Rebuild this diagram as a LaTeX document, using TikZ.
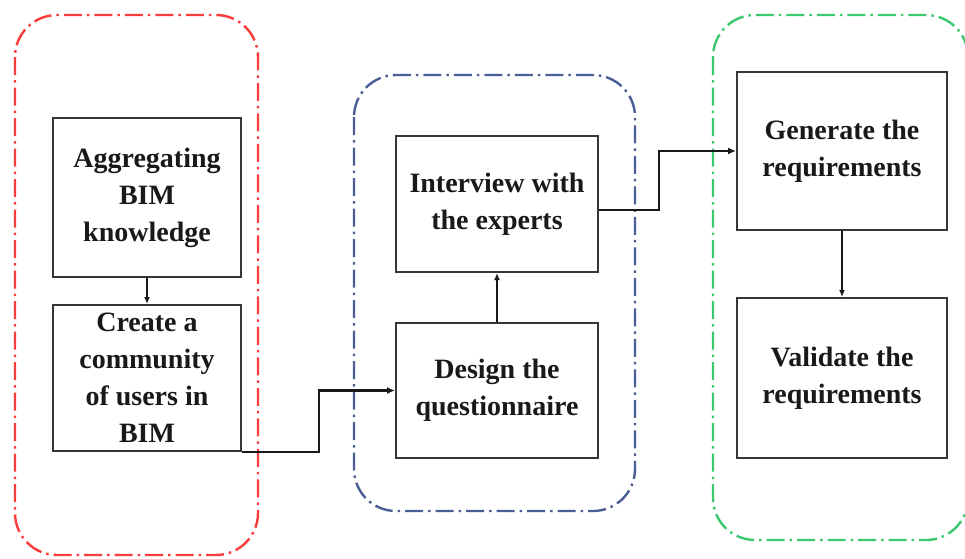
\documentclass[tikz,border=0pt]{standalone}
\usepackage{fontspec}
\setmainfont{Liberation Serif}
\usetikzlibrary{arrows.meta,calc}
\definecolor{grpred}{RGB}{250,60,60}
\definecolor{grpblue}{RGB}{75,95,150}
\definecolor{grpgreen}{RGB}{60,200,110}
\definecolor{boxline}{RGB}{55,55,55}
\tikzset{
  stepbox/.style={draw=boxline, line width=2pt, rectangle, align=center,
    font=\fontsize{28}{37}\selectfont\bfseries, text=black!90, inner sep=0pt},
  group/.style={line width=2.4pt, rounded corners=42pt,
    dash pattern=on 18pt off 5pt on 2.5pt off 5pt},
  link/.style={draw=black!90, line width=1.4pt, -{Latex[length=7pt,width=6pt]}},
  elbow/.style={draw=black!90, line width=2.4pt, -{Latex[length=8pt,width=7pt]}}
}
\begin{document}
\begin{tikzpicture}[x=1pt,y=-1pt]
\clip (0,0) rectangle (965,558);
\fill[white] (0,0) rectangle (965,558);

% dash-dot group frames
\draw[group, draw=grpred] (15,15) rectangle (258,555);
\draw[group, draw=grpblue] (354,75) rectangle (635,511);
\draw[group, draw=grpgreen] (713,15) rectangle (968,540);

% process steps
\node[stepbox, minimum width=188pt, minimum height=159pt] (A) at (147,197.5)
  {Aggregating\\BIM\\knowledge};
\node[stepbox, minimum width=188pt, minimum height=146pt] (B) at (147,378)
  {Create a\\community\\of users in\\BIM};
\node[stepbox, minimum width=202pt, minimum height=136pt] (C) at (497,204)
  {Interview with\\the experts};
\node[stepbox, minimum width=202pt, minimum height=135pt] (D) at (497,390.5)
  {Design the\\questionnaire};
\node[stepbox, minimum width=210pt, minimum height=158pt] (E) at (842,151)
  {Generate the\\requirements};
\node[stepbox, minimum width=210pt, minimum height=160pt] (F) at (842,378)
  {Validate the\\requirements};

% connectors
\draw[link] (A.south) -- (B.north);
\draw[link] (D.north) -- (C.south);
\draw[link] (E.south) -- (F.north);
\draw[elbow] (B.south east) -- ++(77,0) |- (D.west);
\draw[elbow] ($(C.east)+(0,6)$) -- ++(60,0) |- (E.west);
\end{tikzpicture}
\end{document}
